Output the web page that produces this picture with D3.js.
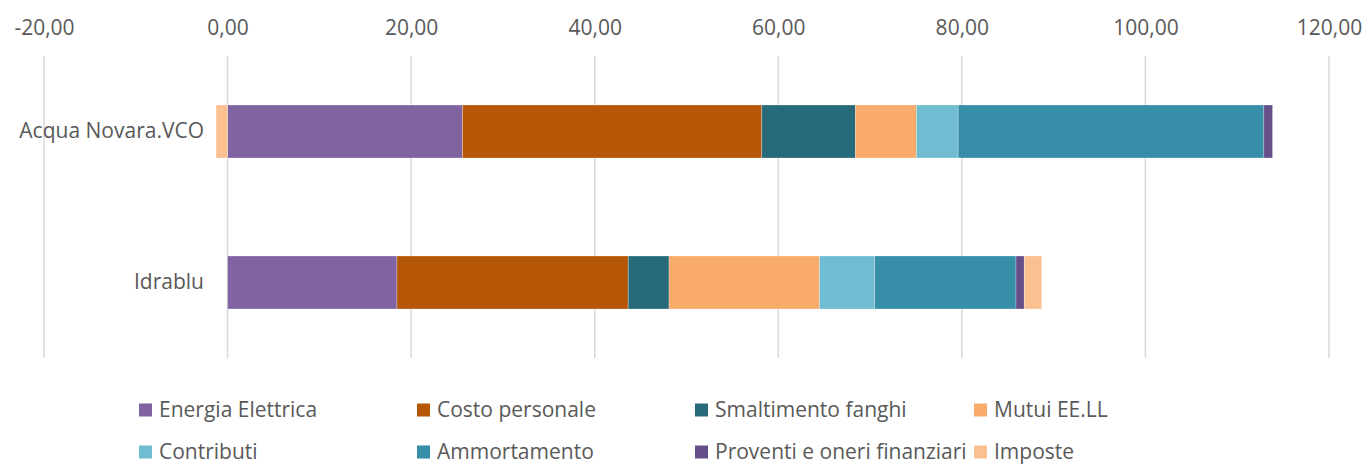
<!DOCTYPE html>
<html>
<head>
<meta charset="utf-8">
<script src="https://cdn.jsdelivr.net/npm/d3@7"></script>
<style>
  html, body { margin: 0; padding: 0; background: #fff; }
  svg { display: block; }
  text { font-family: "Open Sans", "Noto Sans", sans-serif; fill: #595959; }
</style>
</head>
<body>
<svg id="chart" width="1365" height="466"></svg>
<script>
// ---- data ----
const categories = ["Acqua Novara.VCO", "Idrablu"];
const seriesNames = ["Energia Elettrica", "Costo personale", "Smaltimento fanghi", "Mutui EE.LL",
                     "Contributi", "Ammortamento", "Proventi e oneri finanziari", "Imposte"];
const energiaElettrica = [25.6, 18.45];
const costoPersonale = [32.6, 25.2];
const smaltimentoFanghi = [10.2, 4.45];
const mutuiEELL = [6.65, 16.4];
const contributi = [4.55, 6.0];
const ammortamento = [33.3, 15.4];
const proventiOneri = [0.95, 0.9];
const imposte = [-1.25, 1.9];
const xTicks = [-20, 0, 20, 40, 60, 80, 100, 120];
const colors = ["#8064a2", "#b65708", "#276a7c", "#f9ab6b", "#70bcd1", "#378ea8", "#664f88", "#fac090"];

const seriesValues = [energiaElettrica, costoPersonale, smaltimentoFanghi, mutuiEELL,
                      contributi, ammortamento, proventiOneri, imposte];
const table = categories.map((c, i) => {
  const row = { category: c };
  seriesNames.forEach((s, j) => row[s] = seriesValues[j][i]);
  return row;
});

const svg = d3.select("#chart");
const it = d3.formatLocale({ decimal: ",", thousands: ".", grouping: [3], currency: ["", "€"], minus: "-" });
const fmt = it.format(".2f");
const FS = "21px";

const x = d3.scaleLinear().domain([-20, 120]).range([44, 1329]);
const y = d3.scaleBand().domain(categories).range([56, 358]).paddingInner(0.649).paddingOuter(0.3245);

// gridlines
svg.append("g").selectAll("line").data(xTicks).join("line")
  .attr("x1", d => x(d)).attr("x2", d => x(d))
  .attr("y1", 56).attr("y2", 358)
  .attr("stroke", "#d9d9d9").attr("stroke-width", 1.5);

// top axis labels
const axis = svg.append("g").attr("transform", "translate(0,35)")
  .call(d3.axisTop(x).tickValues(xTicks).tickFormat(fmt).tickSize(0).tickPadding(0));
axis.select(".domain").remove();
axis.selectAll("text").attr("font-size", FS).attr("fill", "#595959")
  .style("font-family", '"Open Sans", sans-serif');

// stacked bars
const stack = d3.stack().keys(seriesNames).offset(d3.stackOffsetDiverging);
const stacked = stack(table);
svg.append("g").selectAll("g").data(stacked).join("g")
  .attr("fill", (d, i) => colors[i])
  .selectAll("rect").data(d => d).join("rect")
  .attr("x", d => x(Math.min(d[0], d[1])))
  .attr("width", d => Math.abs(x(d[1]) - x(d[0])))
  .attr("y", d => y(d.data.category))
  .attr("height", y.bandwidth())
  .attr("stroke", "rgba(255,255,255,0.35)").attr("stroke-width", 0.75);

// category labels
const yAxis = svg.append("g").attr("transform", "translate(204,0)")
  .call(d3.axisLeft(y).tickSize(0).tickPadding(0));
yAxis.select(".domain").remove();
yAxis.selectAll("text").attr("font-size", FS).attr("fill", "#595959")
  .style("font-family", '"Open Sans", sans-serif');

// legend
const legendX = [139, 417, 695, 974];
const legendY = [410, 452];
const lg = svg.append("g").selectAll("g").data(seriesNames).join("g")
  .attr("transform", (d, i) => `translate(${legendX[i % 4]},${legendY[Math.floor(i / 4)]})`);
lg.append("rect").attr("x", 0).attr("y", -6.5).attr("width", 13).attr("height", 13)
  .attr("fill", (d, i) => colors[i]);
lg.append("text").attr("x", 20).attr("y", 0).attr("dy", "0.35em")
  .attr("font-size", FS).text(d => d);
</script>
</body>
</html>
